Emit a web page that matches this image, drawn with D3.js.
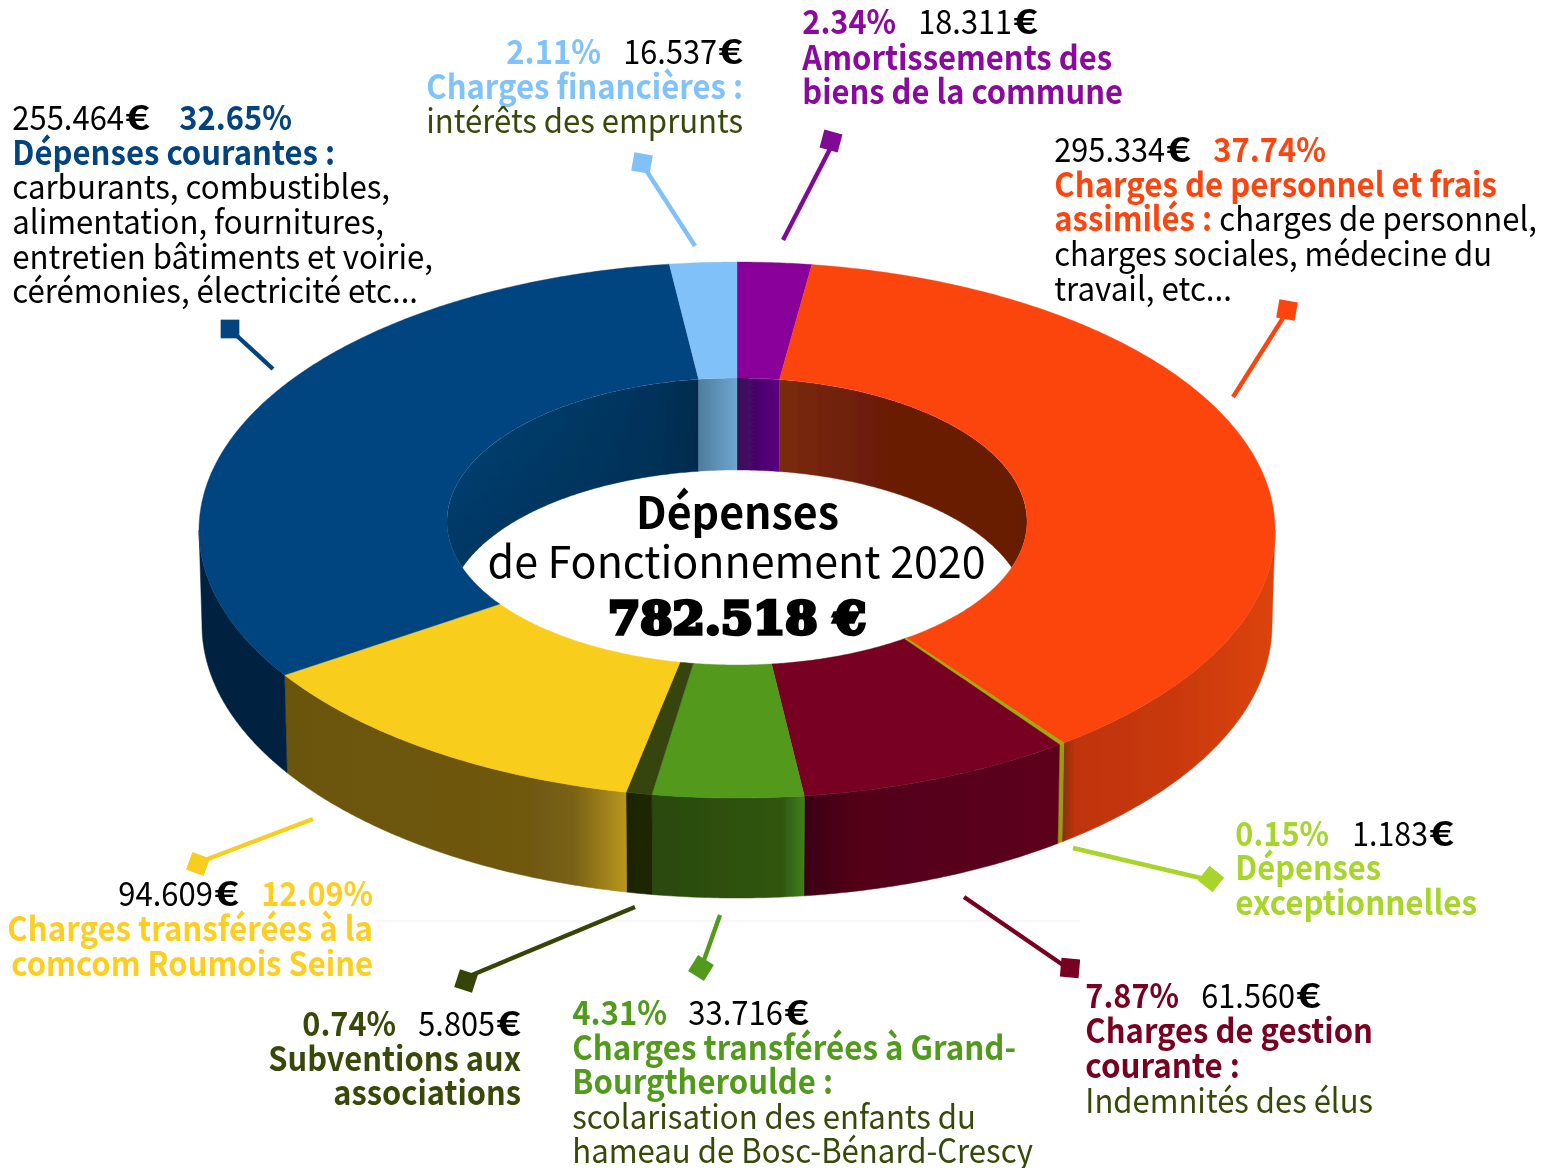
<!DOCTYPE html>
<html><head><meta charset="utf-8">
<script src="https://cdn.jsdelivr.net/npm/d3@7/dist/d3.min.js"></script>
<style>html,body{margin:0;padding:0;background:#fff}svg{display:block}</style>
</head><body><svg id="c" width="1544" height="1168"></svg>
<script>
// ---------- DATA ----------
const categories = ["Amortissements des biens de la commune","Charges de personnel et frais assimilés","Dépenses exceptionnelles","Charges de gestion courante","Charges transférées à Grand-Bourgtheroulde","Subventions aux associations","Charges transférées à la comcom Roumois Seine","Dépenses courantes","Charges financières"];
const amounts = [18311,295334,1183,61560,33716,5805,94609,255464,16537];
// ---------- STYLES ----------
const topColors = ["#880099","#fc440f","#a3a80a","#780021","#529a1c","#364408","#f9cd1f","#03447f","#7fc1f8"];
const leaderColors = ["#7f0a96","#fc440f","#a9d42b","#780021","#529a1c","#364408","#f9cd1f","#03447f","#7fc1f8"];
const outerWallStops = [
 [[0,"#400050"],[1,"#400050"]],
 [[0,"#8a3010"],[.05,"#bf340c"],[.5,"#c8380c"],[1,"#dc4410"]],
 [[0,"#9a9c08"],[1,"#9a9c08"]],
 [[0,"#3a0014"],[.2,"#520019"],[1,"#5c001c"]],
 [[0,"#2a4a10"],[.85,"#305510"],[1,"#3f8018"]],
 [[0,"#1c2400"],[1,"#1e2600"]],
 [[0,"#6b5510"],[.72,"#6f5811"],[.85,"#7a6215"],[1,"#b8961e"]],
 [[0,"#02203f"],[1,"#02203f"]],
 [[0,"#3a6080"],[1,"#3a6080"]]];
const innerWallStops = [
 [[0,"#3a0a58"],[1,"#5a0080"]],
 [[0,"#7a2c0e"],[.2,"#722208"],[.45,"#6a1c06"],[1,"#661a06"]],
 [[0,"#777"],[1,"#777"]],[[0,"#777"],[1,"#777"]],[[0,"#777"],[1,"#777"]],[[0,"#777"],[1,"#777"]],[[0,"#777"],[1,"#777"]],
 [[0,"#03447c"],[.2,"#043f72"],[.5,"#043a66"],[.85,"#03315a"],[1,"#032c4c"]],
 [[0,"#4e7d9c"],[1,"#6ea6d2"]]];
// text colours
const ink = {k:"#000",blue:"#03447f",sky:"#80c2fa",pur:"#8a0a9e",red:"#fc440f",lime:"#a8d52c",mar:"#780021",grn:"#529a1c",dk:"#384808",yel:"#fcce1f"};
// ---------- GEOMETRY ----------
const cx=737;
const outerTop={cy:530,rx:538,ry:268}, outerBot={cy:625,rx:535,ry:273};
const innerTop={cy:521.5,rx:290,ry:143.5}, innerBot={cy:613.5,rx:290,ry:143.5};
const warp=t=>t-(2.9*Math.PI/180)*Math.sin(t);
const pt=(e,t)=>[cx+e.rx*Math.sin(t), e.cy-e.ry*Math.cos(t)];
const arcPts=(e,a,b,f=t=>t)=>{const n=Math.max(2,Math.ceil(Math.abs(b-a)*120));return d3.range(n+1).map(i=>pt(e,f(a+(b-a)*i/n)));};
const line=d3.line();
const svg=d3.select("#c");
const defs=svg.append("defs");
const blur=defs.append("filter").attr("id","soft").attr("x",-.02).attr("y",-.02).attr("width",1.04).attr("height",1.04);
blur.append("feGaussianBlur").attr("stdDeviation",.6);
defs.append("clipPath").attr("id","holeClip").append("path").attr("d",line(arcPts(innerTop,0,2*Math.PI))+"Z");
const shade=defs.append("linearGradient").attr("id","blueShade").attr("gradientUnits","userSpaceOnUse").attr("x1",0).attr("x2",0).attr("y1",385).attr("y2",570);
shade.append("stop").attr("offset",0).attr("stop-color","#022a4c").attr("stop-opacity",0);
shade.append("stop").attr("offset",1).attr("stop-color","#022a4c").attr("stop-opacity",.5);
const pie=d3.pie().sort(null).startAngle(0).endAngle(2*Math.PI);
const slices=pie(amounts);
function grad(id,stops,x0,x1){
  const g=defs.append("linearGradient").attr("id",id).attr("gradientUnits","userSpaceOnUse").attr("x1",x0).attr("x2",x1).attr("y1",0).attr("y2",0);
  stops.forEach(s=>g.append("stop").attr("offset",s[0]).attr("stop-color",s[1]));
  return `url(#${id})`;
}
// faint rule seen behind the chart
svg.append("line").attr("x1",375).attr("x2",1080).attr("y1",921).attr("y2",921).attr("stroke","#efefef").attr("stroke-width",1);
const donut=svg.append("g").attr("filter","url(#soft)");
// outer walls (front half only)
slices.forEach((s,i)=>{
  const a=Math.max(warp(s.startAngle),Math.PI/2), b=Math.min(warp(s.endAngle),3*Math.PI/2);
  if(b<=a) return;
  const up=arcPts(outerTop,a,b), lo=arcPts(outerBot,b,a);
  const xs=up.map(p=>p[0]);
  donut.append("path").attr("d",line(up.concat(lo))+"Z")
    .attr("fill",grad("ow"+i,outerWallStops[i],d3.min(xs),d3.max(xs)))
    .attr("stroke",grad("ows"+i,outerWallStops[i],d3.min(xs),d3.max(xs))).attr("stroke-width",.5);
});
// inner walls (back half only)
const holeG=donut.append("g").attr("clip-path","url(#holeClip)");
slices.forEach((s,i)=>{
  [[s.startAngle,Math.min(s.endAngle,Math.PI/2)],[Math.max(s.startAngle,3*Math.PI/2),s.endAngle]].forEach((r,j)=>{
    if(r[1]<=r[0]) return;
    const up=arcPts(innerTop,r[0],r[1]), lo=arcPts(innerBot,r[1],r[0]);
    const xs=up.map(p=>p[0]);
    const d=line(up.concat(lo))+"Z";
    holeG.append("path").attr("d",d)
      .attr("fill",grad("iw"+i+"_"+j,innerWallStops[i],d3.min(xs),d3.max(xs)))
      .attr("stroke",grad("iws"+i+"_"+j,innerWallStops[i],d3.min(xs),d3.max(xs))).attr("stroke-width",.4);
    if(i===7) holeG.append("path").attr("d",d).attr("fill","url(#blueShade)");
  });
});
// top faces
slices.forEach((s,i)=>{
  const o=arcPts(outerTop,s.startAngle,s.endAngle,warp), n=arcPts(innerTop,s.endAngle,s.startAngle);
  donut.append("path").attr("d",line(o.concat(n))+"Z").attr("fill",topColors[i]).attr("stroke",topColors[i]).attr("stroke-width",i==2?1:.4);
});
// leaders: slice index, start, end of stem, marker centre, marker tilt
const leaders=[
 {i:0,p:[[783,240],[830,149]],m:[831,141],r:15},
 {i:1,p:[[1233,397],[1283,318]],m:[1287,310],r:10},
 {i:2,p:[[1073,848],[1205,879]],m:[1211,879],r:38},
 {i:3,p:[[964,897],[1063,965]],m:[1070,968],r:5},
 {i:4,p:[[720,915],[704,960]],m:[701,968],r:32},
 {i:5,p:[[635,907],[472,975]],m:[466,981],r:18},
 {i:6,p:[[313,819],[205,860]],m:[198,864],r:20},
 {i:7,p:[[273,369],[236,335]],m:[230,329],r:0},
 {i:8,p:[[695,246],[646,170]],m:[642,163],r:10}];
const sym=d3.symbol().type(d3.symbolSquare).size(350);
leaders.forEach(l=>{
  svg.append("path").attr("d",line(l.p)).attr("fill","none").attr("stroke",leaderColors[l.i]).attr("stroke-width",4.4);
  svg.append("path").attr("d",sym()).attr("transform",`translate(${l.m[0]},${l.m[1]}) rotate(${l.r})`).attr("fill",leaderColors[l.i]);
});
// ---------- TEXT ----------
// [baseline, [text, bold?, colour, x0, x1]...]
const textLines=[
 [129.5,["255.464",0,"k",13,124],["€",1,"k",126,150],["32.65%",1,"blue",180,292]],
 [164.5,["Dépenses courantes :",1,"blue",13,335]],
 [198.5,["carburants, combustibles,",0,"k",13,390]],
 [233.5,["alimentation, fournitures,",0,"k",13,384]],
 [268.5,["entretien bâtiments et voirie,",0,"k",13,433]],
 [302.5,["cérémonies, électricité etc...",0,"k",13,418]],
 [64,["2.11%",1,"sky",507,601],["16.537",0,"k",624,717],["€",1,"k",719,743]],
 [99,["Charges financières :",1,"sky",427,743]],
 [133,["intérêts des emprunts",0,"dk",427,743]],
 [34,["2.34%",1,"pur",803,896],["18.311",0,"k",919,1012],["€",1,"k",1014,1038]],
 [69.5,["Amortissements des",1,"pur",803,1112]],
 [103.5,["biens de la commune",1,"pur",803,1123]],
 [161.5,["295.334",0,"k",1055,1165],["€",1,"k",1167,1191],["37.74%",1,"red",1214,1326]],
 [196.5,["Charges de personnel et frais",1,"red",1055,1497]],
 [230.5,["assimilés :",1,"red",1055,1212],["charges de personnel,",0,"k",1220,1537]],
 [265.5,["charges sociales, médecine du",0,"k",1055,1492]],
 [300.5,["travail, etc...",0,"k",1055,1232]],
 [845.5,["0.15%",1,"lime",1236,1329],["1.183",0,"k",1353,1428],["€",1,"k",1430,1454]],
 [880,["Dépenses",1,"lime",1236,1381]],
 [914.5,["exceptionnelles",1,"lime",1236,1477]],
 [1007.5,["7.87%",1,"mar",1086,1179],["61.560",0,"k",1202,1295],["€",1,"k",1297,1321]],
 [1042.5,["Charges de gestion",1,"mar",1086,1373]],
 [1077.5,["courante :",1,"mar",1086,1240]],
 [1112.5,["Indemnités des élus",0,"dk",1086,1373]],
 [1024.5,["4.31%",1,"grn",573,667],["33.716",0,"k",689,783],["€",1,"k",785,809]],
 [1059.5,["Charges transférées à Grand-",1,"grn",573,1016]],
 [1093.5,["Bourgtheroulde :",1,"grn",573,833]],
 [1128.5,["scolarisation des enfants du",0,"dk",573,976]],
 [1163,["hameau de Bosc-Bénard-Crescy",0,"dk",573,1033]],
 [1035.5,["0.74%",1,"dk",303,396],["5.805",0,"k",419,495],["€",1,"k",497,521]],
 [1070.5,["Subventions aux",1,"dk",269,521]],
 [1104.5,["associations",1,"dk",334,521]],
 [905.5,["94.609",0,"k",119,213],["€",1,"k",215,239],["12.09%",1,"yel",262,373]],
 [940.5,["Charges transférées à la",1,"yel",8,373]],
 [975.5,["comcom Roumois Seine",1,"yel",12,373]]
];
const sans='"Noto Sans CJK SC","Noto Sans",sans-serif';
const tg=svg.append("g").attr("font-family",sans).attr("font-size",33.5).attr("transform","translate(-.7,0)");
textLines.forEach(l=>{
  l.slice(1).forEach(r=>{
    tg.append("text").attr("x",r[3]).attr("y",l[0]).attr("textLength",r[4]-r[3]+.7).attr("lengthAdjust","spacingAndGlyphs")
      .attr("font-weight",r[1]?700:400).attr("fill",ink[r[2]]).text(r[0]);
  });
});
const ct=svg.append("g").attr("fill","#000");
ct.append("text").attr("x",636).attr("y",529).attr("textLength",203).attr("lengthAdjust","spacingAndGlyphs")
  .attr("font-family",sans).attr("font-size",44).attr("font-weight",700).text("Dépenses");
ct.append("text").attr("x",487.5).attr("y",578).attr("textLength",498).attr("lengthAdjust","spacingAndGlyphs")
  .attr("font-family",sans).attr("font-size",44).text("de Fonctionnement 2020");
ct.append("text").attr("x",608).attr("y",634).attr("textLength",258).attr("lengthAdjust","spacingAndGlyphs")
  .attr("font-family",'"DejaVu Serif",serif').attr("font-size",44).attr("font-weight",700)
  .attr("stroke","#000").attr("stroke-width",3.6).text("782.518 €");
</script></body></html>
